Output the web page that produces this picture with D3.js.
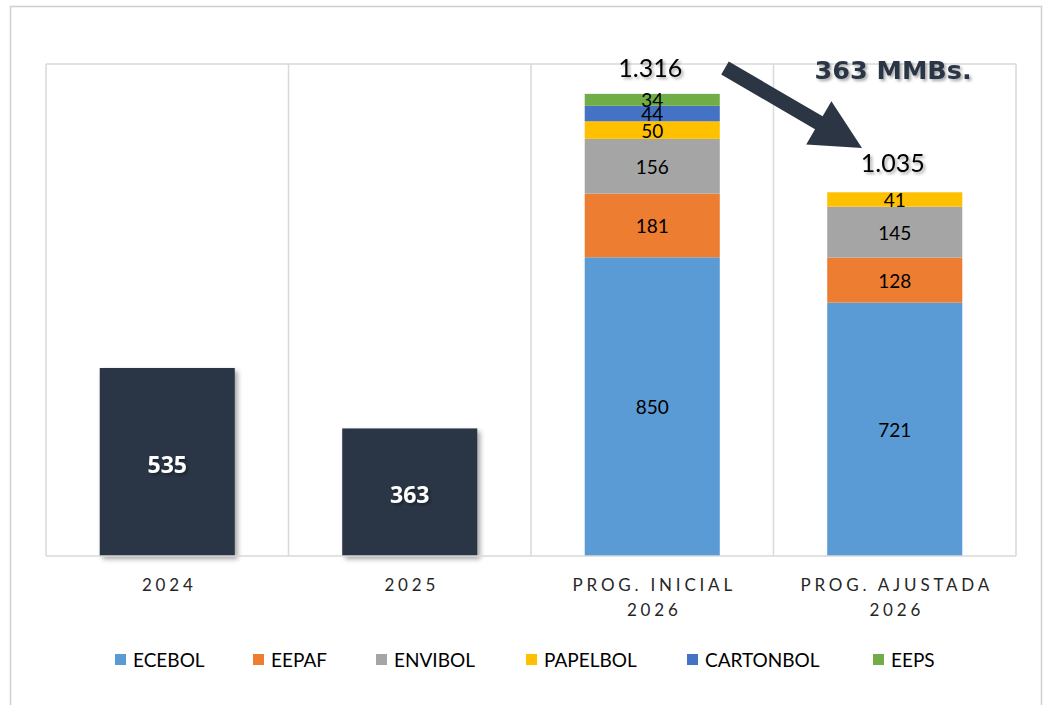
<!DOCTYPE html>
<html><head><meta charset="utf-8">
<script src="https://cdn.jsdelivr.net/npm/d3@7"></script>
<style>body{margin:0;background:#fff;}svg{display:block;}</style>
</head><body><svg id="c" width="1049" height="705"></svg>
<script>
const categories = ["2024", "2025", "PROG. INICIAL\n2026", "PROG. AJUSTADA\n2026"];
const seriesNames = ["ECEBOL", "EEPAF", "ENVIBOL", "PAPELBOL", "CARTONBOL", "EEPS"];
const seriesColors = ["#5B9BD5", "#ED7D31", "#A5A5A5", "#FFC000", "#4472C4", "#70AD47"];
const totalValues = [535, 363, null, null];
const ecebol    = [null, null, 850, 721];
const eepaf     = [null, null, 181, 128];
const envibol   = [null, null, 156, 145];
const papelbol  = [null, null, 50, 41];
const cartonbol = [null, null, 44, 0];
const eeps      = [null, null, 34, 0];
const totalLabels = ["", "", "1.316", "1.035"];
const annotation = "363 MMBs.";
const yMax = 1400;

const svg = d3.select("#c");
const defs = svg.append("defs");
const f = defs.append("filter").attr("id","sh").attr("x","-20%").attr("y","-20%").attr("width","150%").attr("height","150%");
f.append("feDropShadow").attr("dx",3).attr("dy",3).attr("stdDeviation",2.5).attr("flood-color","#000").attr("flood-opacity",0.35);
const ft = defs.append("filter").attr("id","tsh").attr("x","-20%").attr("y","-30%").attr("width","150%").attr("height","180%");
ft.append("feDropShadow").attr("dx",2).attr("dy",2).attr("stdDeviation",1.5).attr("flood-color","#000").attr("flood-opacity",0.35);

// outer border
svg.append("rect").attr("x",10.5).attr("y",6.5).attr("width",1031).attr("height",710)
  .attr("fill","none").attr("stroke","#d0d0d0").attr("stroke-width",1.5);

const L = 46, R = 1016, T = 64, B = 556;
const x = d3.scaleBand().domain(categories).range([L, R]).paddingInner(0).paddingOuter(0);
const y = d3.scaleLinear().domain([0, yMax]).range([B, T]);
const bw = x.bandwidth() * 0.557;

// grid lines (category boundaries) and top line
const g = svg.append("g");
const bounds = categories.map(c => x(c)).concat([R]);
g.selectAll("line.v").data(bounds).join("line")
  .attr("x1", d => d).attr("x2", d => d).attr("y1", T).attr("y2", B)
  .attr("stroke","#d9d9d9").attr("stroke-width",1.5);
g.append("line").attr("x1",L).attr("x2",R).attr("y1",T).attr("y2",T).attr("stroke","#d9d9d9").attr("stroke-width",1.5);

// dark total bars
categories.forEach((c,i) => {
  const v = totalValues[i];
  if (v == null) return;
  const cx = x(c) + x.bandwidth()/2;
  svg.append("rect").attr("x", cx - bw/2).attr("y", y(v)).attr("width", bw).attr("height", y(0)-y(v))
    .attr("fill","#2B3544").attr("filter","url(#sh)");
  svg.append("text").attr("x", cx).attr("y", (y(v)+y(0))/2 + 11).attr("text-anchor","middle")
    .attr("font-family","Open Sans, sans-serif").attr("font-weight","bold").attr("font-size",23)
    .attr("fill","#fff").attr("filter","url(#tsh)").text(v);
});

// stacked bars
const seriesArrays = [ecebol, eepaf, envibol, papelbol, cartonbol, eeps];
categories.forEach((c,i) => {
  if (ecebol[i] == null) return;
  const cx = x(c) + x.bandwidth()/2;
  let base = 0;
  seriesArrays.forEach((arr, s) => {
    const v = arr[i];
    if (!v) return;
    svg.append("rect").attr("x", cx - bw/2).attr("y", y(base+v)).attr("width", bw).attr("height", y(base)-y(base+v))
      .attr("fill", seriesColors[s]);
    svg.append("text").attr("x", cx).attr("y", (y(base)+y(base+v))/2 + 7.5).attr("text-anchor","middle")
      .attr("font-family","Lato, sans-serif").attr("font-size",19).attr("fill","#000").text(v);
    base += v;
  });
  svg.append("text").attr("x", cx - 2).attr("y", i === 2 ? 77 : 172).attr("text-anchor","middle")
    .attr("font-family","Lato, sans-serif").attr("font-size",25).attr("fill","#000")
    .attr("filter","url(#tsh)").text(totalLabels[i]);
});

// bottom axis line
svg.append("line").attr("x1",L).attr("x2",R).attr("y1",B).attr("y2",B).attr("stroke","#d9d9d9").attr("stroke-width",1.5);

// category labels
categories.forEach(c => {
  const cx = x(c) + x.bandwidth()/2;
  const lines = c.split("\n");
  const t = svg.append("text").attr("text-anchor","middle").attr("font-family","Lato, sans-serif")
    .attr("font-size",17).attr("fill","#262626").attr("letter-spacing","3.8px");
  lines.forEach((ln, k) => t.append("tspan").attr("x", cx + 2).attr("y", 591 + k*25).text(ln));
});

// annotation arrow
const tail = [725,68], tip = [862,148];
const ang = Math.atan2(tip[1]-tail[1], tip[0]-tail[0]);
const ux = Math.cos(ang), uy = Math.sin(ang), nx = -uy, ny = ux;
const headLen = 50, headW = 25, shaftW = 7.5;
const hb = [tip[0]-ux*headLen, tip[1]-uy*headLen];
const pts = [
  [tail[0]+nx*shaftW, tail[1]+ny*shaftW],
  [hb[0]+nx*shaftW, hb[1]+ny*shaftW],
  [hb[0]+nx*headW, hb[1]+ny*headW],
  tip,
  [hb[0]-nx*headW, hb[1]-ny*headW],
  [hb[0]-nx*shaftW, hb[1]-ny*shaftW],
  [tail[0]-nx*shaftW, tail[1]-ny*shaftW]
];
svg.append("path").attr("d", d3.line()(pts) + "Z").attr("fill","#2B3544");

svg.append("text").attr("x", 893).attr("y", 79).attr("text-anchor","middle")
  .attr("font-family","DejaVu Sans, sans-serif").attr("font-weight","bold").attr("font-size",25.5)
  .attr("fill","#2B3544").attr("filter","url(#tsh)").text(annotation);

// legend
const legX = [115, 253, 376, 526, 687, 873];
seriesNames.forEach((n, s) => {
  svg.append("rect").attr("x", legX[s]).attr("y", 654).attr("width", 11).attr("height", 11).attr("fill", seriesColors[s]);
  svg.append("text").attr("x", legX[s] + 18).attr("y", 667).attr("font-family","Lato, sans-serif")
    .attr("font-size",19).attr("fill","#000").text(n);
});
</script></body></html>
